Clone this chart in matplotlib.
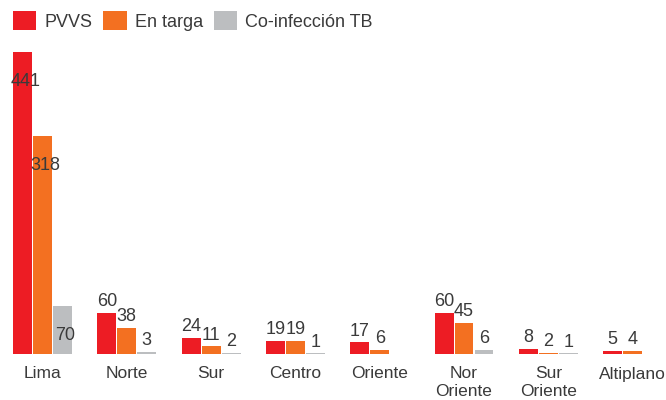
import matplotlib
matplotlib.use("Agg")
import matplotlib.pyplot as plt
from matplotlib.patches import Patch
import numpy as np

regions = ["Lima", "Norte", "Sur", "Centro", "Oriente", "Nor\nOriente", "Sur\nOriente", "Altiplano"]
pvvs = [441, 60, 24, 19, 17, 60, 8, 5]
en_targa = [318, 38, 11, 19, 6, 45, 2, 4]
coinfeccion = [70, 3, 2, 1, 0, 6, 1, 0]
series_names = ["PVVS", "En targa", "Co-infección TB"]

colors = ["#ED1C24", "#F37021", "#BCBEC0"]
text_color = "#3a3a3a"

plt.rcParams["font.family"] = ["Liberation Sans", "DejaVu Sans"]

fig = plt.figure(figsize=(6.66, 4.0), dpi=100)
ax = fig.add_axes([0.0, 0.115, 1.0, 0.785])

x = np.arange(len(regions))
width = 0.225
step = 0.237

for i, (vals, col) in enumerate(zip([pvvs, en_targa, coinfeccion], colors)):
    pos = x + (i - 1) * step
    ax.bar(pos, vals, width=width, color=col, linewidth=0)
    for p, v in zip(pos, vals):
        if v == 0:
            continue
        if v >= 65:
            ax.annotate(str(v), (p, v), xytext=(2, -15), textcoords="offset points",
                        ha="center", va="top", fontsize=13, color=text_color)
        else:
            ax.annotate(str(v), (p, v), xytext=(0, 2), textcoords="offset points",
                        ha="center", va="bottom", fontsize=13, color=text_color)

ax.set_xlim(-0.504, 7.396)
ax.set_ylim(0, 458.4)
ax.set_xticks(x)
ax.set_xticklabels(regions, fontsize=12.5, color=text_color, linespacing=1.25, va="top")
ax.tick_params(axis="x", length=0, pad=9)
ax.set_yticks([])
for s in ax.spines.values():
    s.set_visible(False)

handles = [Patch(facecolor=c, edgecolor="none") for c in colors]
fig.legend(handles, series_names, loc="upper left", bbox_to_anchor=(0.0, 1.005),
           ncol=3, frameon=False, fontsize=13, handlelength=1.3, handleheight=1.3,
           handletextpad=0.45, columnspacing=0.6, labelcolor=text_color, borderaxespad=0.3)

fig.savefig("out.png", dpi=100)
